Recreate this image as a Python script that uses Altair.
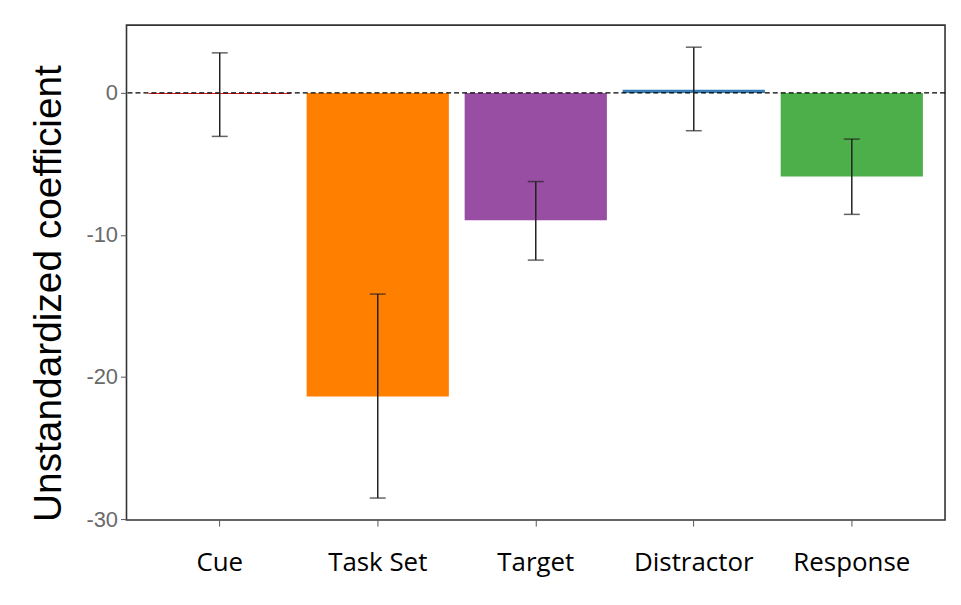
import altair as alt
import pandas as pd

categories = ["Cue", "Task Set", "Target", "Distractor", "Response"]
coefficients = [-0.08, -21.37, -8.97, 0.22, -5.89]
ci_low = [-3.06, -28.52, -11.77, -2.66, -8.55]
ci_high = [2.82, -14.16, -6.24, 3.22, -3.25]
colors = ["#E41A1C", "#FF7F00", "#984EA3", "#377EB8", "#4DAF4A"]
y_ticks = [0, -10, -20, -30]

df = pd.DataFrame({
    "category": categories,
    "coef": coefficients,
    "lo": ci_low,
    "hi": ci_high,
})
zero_df = pd.DataFrame({"zero": [0]})

x_enc = alt.X(
    "category:N",
    sort=categories,
    title=None,
    scale=alt.Scale(paddingInner=0.1, paddingOuter=0.14),
    axis=alt.Axis(
        labelAngle=0,
        labelFont="Open Sans",
        labelFontSize=26,
        labelColor="#000000",
        labelPadding=24,
        tickColor="#555555",
        tickSize=6,
        tickWidth=1,
        domain=False,
    ),
)

y_scale = alt.Scale(domain=[-30.07, 4.77], nice=False, zero=False)

bars = alt.Chart(df).mark_bar().encode(
    x=x_enc,
    y=alt.Y(
        "coef:Q",
        scale=y_scale,
        title="Unstandardized coefficient",
        axis=alt.Axis(
            values=y_ticks,
            labelExpr="toString(datum.value)",
            grid=False,
            domain=False,
            labelFont="Liberation Sans",
            labelFontSize=22,
            labelColor="#6a6a6a",
            labelPadding=3,
            tickColor="#555555",
            tickSize=6,
            tickWidth=1,
            titleFont="Liberation Sans",
            titleFontSize=39,
            titleFontWeight="normal",
            titleColor="#000000",
            titleAngle=-90,
            titleAlign="center",
            titleBaseline="alphabetic",
            titleX=-66,
            titleY=269,
        ),
    ),
    y2=alt.datum(0),
    color=alt.Color("category:N", sort=categories,
                    scale=alt.Scale(domain=categories, range=colors), legend=None),
)

zero_line = alt.Chart(zero_df).mark_rule(
    color="#000000", strokeDash=[5, 3], strokeWidth=1.4
).encode(y=alt.Y("zero:Q", scale=y_scale))

err_rule = alt.Chart(df).mark_rule(color="#222222", strokeWidth=1.5).encode(
    x=alt.X("category:N", sort=categories),
    y=alt.Y("lo:Q", scale=y_scale),
    y2="hi:Q",
)

cap_lo = alt.Chart(df).mark_tick(color="#222222", thickness=1.5, size=16).encode(
    x=alt.X("category:N", sort=categories),
    y=alt.Y("lo:Q", scale=y_scale),
)
cap_hi = alt.Chart(df).mark_tick(color="#222222", thickness=1.5, size=16).encode(
    x=alt.X("category:N", sort=categories),
    y=alt.Y("hi:Q", scale=y_scale),
)

chart = alt.layer(bars, zero_line, err_rule, cap_lo, cap_hi).properties(
    width=822,
    height=497,
    autosize=alt.AutoSizeParams(type="none"),
    padding={"left": 119, "top": 16, "right": 8, "bottom": 70},
    background="#ffffff",
).configure_view(
    stroke="#333333",
    strokeWidth=1.6,
)

chart.save("out.html", embed_options={"renderer": "svg", "actions": False})
